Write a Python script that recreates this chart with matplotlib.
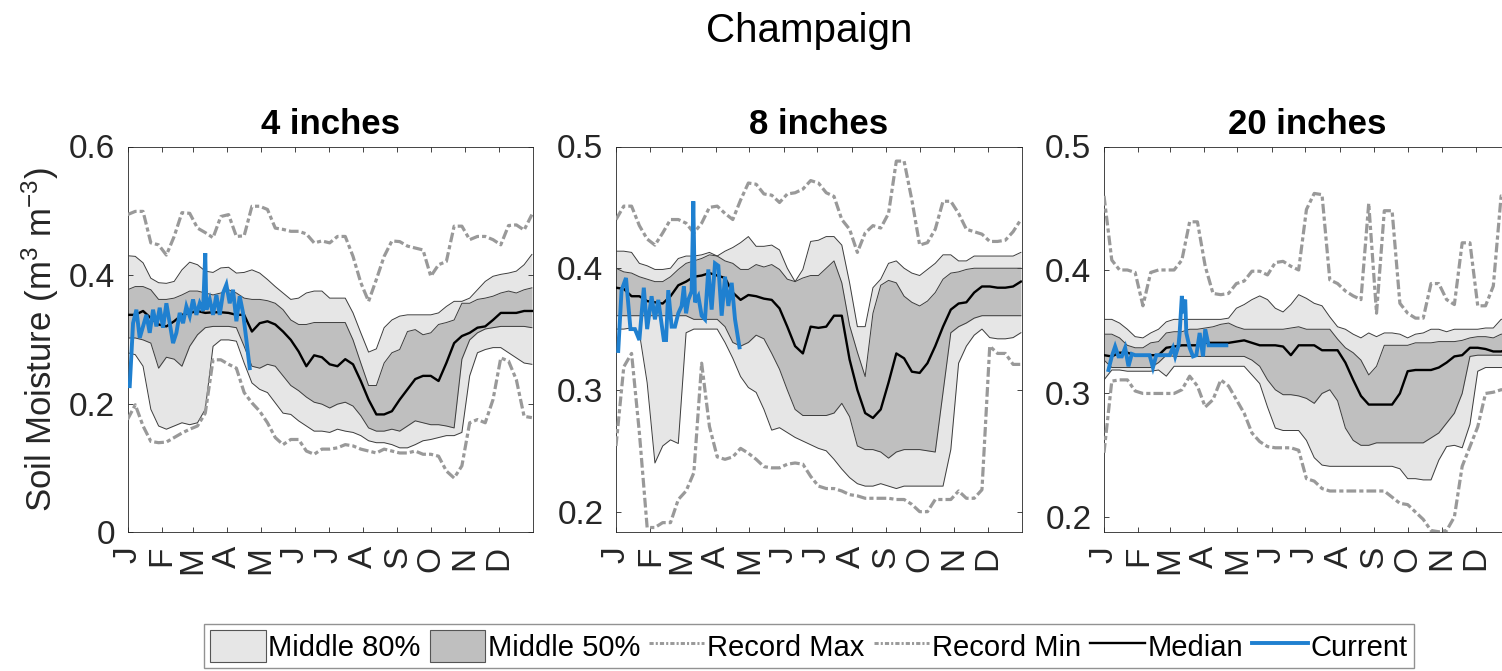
import numpy as np
import matplotlib
matplotlib.use('Agg')
import matplotlib.pyplot as plt
from matplotlib.patches import Patch
from matplotlib.lines import Line2D

plt.rcParams['font.family'] = ['Liberation Sans', 'DejaVu Sans']
plt.rcParams['mathtext.default'] = 'regular'
plt.rcParams['lines.scale_dashes'] = False

days = [1, 8, 15, 22, 29, 36, 43, 50, 57, 64, 71, 78, 85, 92, 99, 106, 113, 120,
        127, 134, 141, 148, 155, 162, 169, 176, 183, 190, 197, 204, 211, 218, 225,
        232, 239, 246, 253, 260, 267, 274, 281, 288, 295, 302, 309, 316, 323, 330,
        337, 344, 351, 358, 365]

month_days = [1, 32, 60, 91, 121, 152, 182, 213, 244, 274, 305, 335]
month_labels = ['J', 'F', 'M', 'A', 'M', 'J', 'J', 'A', 'S', 'O', 'N', 'D']

# ---- 4 inches ----
d4_max = [.494, .499, .499, .450, .447, .431, .460, .497, .496, .473, .466, .458, .491, .494, .460, .461, .507, .507,
          .502, .473, .471, .468, .468, .464, .450, .453, .450, .460, .460, .429, .388, .359, .393, .429, .453, .452,
          .445, .442, .439, .398, .416, .421, .476, .476, .455, .460, .460, .455, .447, .477, .478, .470, .494]
d4_p90 = [.430, .429, .419, .395, .388, .387, .390, .408, .420, .416, .406, .404, .411, .412, .403, .404, .408, .403,
          .393, .382, .372, .362, .364, .372, .375, .375, .364, .364, .364, .341, .310, .280, .285, .318, .330, .336,
          .338, .338, .338, .338, .341, .351, .359, .359, .364, .377, .390, .398, .401, .403, .406, .416, .432]
d4_p75 = [.377, .382, .382, .377, .362, .362, .364, .369, .375, .375, .372, .369, .372, .377, .372, .364, .362, .362,
          .360, .356, .346, .330, .323, .323, .326, .326, .326, .326, .326, .299, .263, .228, .228, .263, .279, .284,
          .312, .315, .307, .310, .323, .326, .330, .356, .356, .362, .364, .367, .372, .375, .372, .377, .380]
d4_med = [.338, .338, .344, .333, .323, .320, .328, .338, .341, .344, .341, .342, .342, .341, .338, .338, .312, .325,
          .328, .323, .312, .299, .281, .258, .275, .272, .261, .258, .269, .261, .235, .206, .183, .183, .188, .206,
          .222, .238, .243, .243, .235, .263, .294, .305, .310, .318, .320, .330, .341, .341, .341, .344, .344]
d4_p25 = [.302, .302, .299, .294, .255, .272, .269, .258, .289, .307, .318, .320, .320, .320, .318, .289, .258, .255,
          .261, .258, .243, .228, .220, .210, .202, .199, .193, .199, .202, .196, .181, .162, .157, .157, .160, .157,
          .165, .173, .170, .167, .167, .165, .162, .269, .299, .310, .316, .318, .320, .320, .320, .320, .318]
d4_p10 = [.279, .276, .258, .191, .165, .160, .165, .170, .167, .170, .191, .289, .299, .299, .297, .263, .232, .222,
          .217, .201, .185, .183, .173, .165, .157, .157, .155, .160, .157, .155, .150, .142, .139, .139, .136, .131,
          .131, .136, .142, .144, .147, .150, .150, .155, .243, .279, .284, .287, .287, .279, .271, .263, .261]
d4_min = [.175, .198, .165, .141, .139, .140, .147, .154, .160, .165, .185, .268, .268, .261, .255, .217, .201, .188,
          .170, .147, .136, .144, .144, .126, .121, .129, .129, .131, .136, .134, .129, .126, .123, .129, .126, .123,
          .123, .126, .121, .121, .118, .095, .084, .103, .170, .175, .170, .206, .271, .266, .237, .180, .178]
cur4_days = [3, 6, 9, 12, 15, 18, 21, 24, 27, 30, 33, 36, 39, 42, 45, 48, 51, 54, 57, 60, 63, 66, 69, 71,
             72, 75, 78, 81, 84, 87, 90, 93, 96, 99, 102, 105, 108, 111]
cur4_vals = [0.227, 0.325, 0.346, 0.302, 0.320, 0.338, 0.310, 0.346, 0.320, 0.349, 0.318, 0.356, 0.325, 0.294,
             0.310, 0.341, 0.325, 0.351, 0.336, 0.362, 0.338, 0.356, 0.344, 0.434, 0.346, 0.362, 0.338, 0.369,
             0.338, 0.372, 0.385, 0.356, 0.377, 0.328, 0.367, 0.341, 0.299, 0.255]

# ---- 8 inches ----
d8_max = [.440, .451, .451, .435, .424, .419, .429, .440, .440, .437, .429, .437, .450, .451, .445, .440, .456, .470,
          .469, .461, .460, .454, .461, .462, .465, .472, .470, .462, .459, .440, .432, .413, .429, .435, .433, .445,
          .488, .488, .456, .419, .421, .432, .455, .455, .445, .432, .430, .428, .422, .422, .423, .430, .440]
d8_p90 = [.414, .414, .413, .404, .402, .399, .399, .400, .408, .410, .410, .411, .413, .410, .414, .417, .421, .426,
          .418, .418, .419, .415, .400, .389, .399, .422, .423, .426, .426, .419, .388, .352, .352, .384, .391, .404,
          .406, .400, .396, .394, .399, .404, .411, .411, .406, .406, .410, .410, .410, .410, .410, .410, .413]
d8_p75 = [.400, .397, .396, .393, .391, .389, .389, .393, .399, .404, .406, .408, .411, .410, .406, .404, .399, .399,
          .403, .401, .403, .399, .391, .389, .392, .394, .394, .400, .406, .388, .353, .331, .311, .363, .386, .390,
          .388, .377, .372, .369, .373, .380, .391, .396, .397, .399, .400, .400, .400, .400, .400, .400, .400]
d8_med = [.384, .383, .377, .377, .373, .372, .371, .377, .386, .389, .393, .394, .396, .394, .392, .380, .374, .378,
          .377, .375, .374, .367, .352, .336, .330, .352, .351, .352, .361, .361, .325, .300, .281, .277, .284, .306,
          .330, .326, .315, .314, .322, .336, .352, .366, .371, .372, .380, .385, .385, .384, .384, .385, .389]
d8_p25 = [.361, .361, .361, .361, .361, .361, .361, .361, .361, .361, .358, .358, .358, .358, .352, .339, .336, .339,
          .345, .342, .330, .317, .300, .284, .279, .279, .279, .279, .281, .289, .278, .254, .251, .251, .249, .244,
          .249, .251, .251, .251, .250, .249, .298, .347, .352, .355, .359, .361, .361, .361, .361, .361, .361]
d8_p10 = [.350, .350, .351, .347, .306, .240, .254, .259, .256, .347, .350, .350, .350, .350, .339, .326, .311, .302,
          .298, .284, .267, .269, .265, .261, .258, .255, .252, .250, .243, .235, .228, .223, .221, .221, .223, .221,
          .219, .221, .221, .221, .221, .221, .221, .251, .322, .336, .345, .350, .343, .342, .342, .343, .347]
d8_min = [.254, .319, .330, .265, .187, .187, .191, .191, .210, .217, .232, .322, .270, .245, .243, .245, .252, .248,
          .243, .237, .236, .236, .239, .240, .239, .229, .221, .219, .219, .217, .214, .213, .211, .211, .211, .211,
          .210, .210, .206, .200, .200, .210, .210, .210, .217, .211, .211, .218, .336, .330, .330, .321, .321]
cur8_days = [3, 6, 10, 14, 18, 22, 26, 29, 33, 36, 39, 44, 46, 48, 51, 54, 57, 60, 62, 64, 66, 69, 70.5,
             72, 75, 78, 81, 84, 87, 90, 93, 96, 99, 102, 105, 108, 112]
cur8_vals = [0.332, 0.382, 0.392, 0.350, 0.350, 0.341, 0.384, 0.350, 0.377, 0.358, 0.374, 0.341, 0.341,
             0.382, 0.352, 0.352, 0.363, 0.369, 0.385, 0.363, 0.374, 0.381, 0.455, 0.372, 0.377, 0.361,
             0.358, 0.399, 0.366, 0.404, 0.402, 0.361, 0.393, 0.369, 0.388, 0.358, 0.335]

# ---- 20 inches ----
d20_max = [.460, .408, .400, .400, .398, .371, .398, .400, .400, .400, .408, .439, .439, .403, .381, .380, .381, .389,
           .391, .399, .399, .396, .406, .407, .403, .400, .449, .462, .461, .392, .389, .383, .379, .376, .454, .365,
           .448, .448, .373, .365, .361, .361, .389, .389, .376, .372, .422, .422, .371, .371, .387, .460, .460]
d20_p90 = [.360, .360, .357, .352, .346, .345, .349, .352, .358, .360, .360, .360, .360, .360, .360, .360, .361, .369,
           .372, .376, .379, .376, .369, .366, .372, .380, .377, .373, .371, .362, .354, .352, .348, .345, .349, .346,
           .349, .349, .348, .345, .348, .349, .352, .352, .350, .352, .352, .352, .352, .353, .353, .360, .361]
d20_p75 = [.348, .348, .345, .339, .337, .337, .341, .342, .349, .350, .350, .352, .352, .353, .354, .356, .357, .354,
           .352, .352, .352, .352, .352, .352, .353, .354, .352, .352, .352, .352, .344, .337, .333, .327, .315, .322,
           .339, .339, .339, .339, .341, .341, .341, .342, .342, .342, .343, .345, .346, .346, .345, .348, .348]
d20_med = [.331, .330, .333, .333, .331, .331, .331, .331, .337, .338, .339, .339, .339, .341, .341, .341, .341, .342,
           .343, .341, .339, .339, .339, .338, .331, .339, .339, .339, .335, .335, .335, .325, .311, .298, .291, .291,
           .291, .291, .300, .318, .319, .319, .319, .321, .325, .330, .331, .337, .337, .336, .334, .334, .336]
d20_p25 = [.327, .321, .321, .321, .321, .321, .321, .325, .331, .330, .330, .330, .330, .330, .330, .330, .330, .330,
           .330, .327, .322, .311, .303, .299, .299, .298, .296, .292, .300, .303, .294, .272, .262, .258, .258, .260,
           .260, .260, .260, .260, .260, .260, .264, .268, .276, .284, .300, .330, .331, .331, .331, .331, .331]
d20_p10 = [.311, .319, .319, .318, .318, .318, .318, .319, .314, .322, .322, .322, .322, .322, .322, .322, .322, .322,
           .322, .315, .308, .289, .272, .270, .270, .270, .262, .248, .242, .241, .241, .241, .241, .241, .241, .241,
           .241, .241, .239, .231, .231, .230, .230, .246, .257, .258, .256, .275, .318, .321, .321, .321, .321]
d20_min = [.252, .310, .311, .311, .302, .300, .300, .300, .300, .300, .303, .314, .306, .289, .295, .311, .306, .295,
           .284, .268, .261, .257, .256, .256, .256, .254, .231, .229, .223, .221, .221, .221, .221, .221, .221, .221,
           .221, .216, .211, .210, .204, .198, .189, .188, .189, .200, .241, .257, .273, .300, .301, .303, .303]
cur20_days = [5, 8, 11, 14, 17, 20, 23, 26, 29, 33, 38, 42, 45, 48, 54, 60, 63, 65, 68, 69, 71, 72, 74, 75,
              78, 81, 84, 87, 90, 92, 95, 99, 105, 111]
cur20_vals = [0.319, 0.330, 0.338, 0.330, 0.330, 0.337, 0.322, 0.332, 0.331, 0.331, 0.331, 0.331, 0.321,
              0.331, 0.331, 0.331, 0.337, 0.330, 0.339, 0.349, 0.379, 0.365, 0.376, 0.349, 0.337, 0.330,
              0.331, 0.349, 0.330, 0.352, 0.339, 0.339, 0.339, 0.339]

LIGHT = '#e6e6e6'
DARK = '#bfbfbf'
EDGE = '#3c3c3c'
REC = '#999999'
BLUE = '#1f80d0'
AXC = '#262626'
REC_DASH = (0, (7, 2.2, 3, 2.2))


def draw_panel(ax, title, stats, cur_days, cur_vals, ylim, yticks, yticklabels):
    vmax, p90, p75, med, p25, p10, vmin = stats
    ax.fill_between(days, p10, p90, color=LIGHT, lw=0, zorder=1)
    ax.fill_between(days, p25, p75, color=DARK, lw=0, zorder=2)
    for s in (p10, p90, p25, p75):
        ax.plot(days, s, color=EDGE, lw=0.7, zorder=3)
    ax.plot(days, vmax, color=REC, lw=2.3, ls=REC_DASH, zorder=4)
    ax.plot(days, vmin, color=REC, lw=2.3, ls=REC_DASH, zorder=4)
    ax.plot(days, med, color='black', lw=1.7, zorder=5)
    ax.plot(cur_days, cur_vals, color=BLUE, lw=2.8, zorder=6, solid_joinstyle='miter')

    ax.set_xlim(1, 366)
    ax.set_ylim(*ylim)
    ax.set_xticks(month_days)
    ax.set_xticklabels(month_labels, rotation=90)
    ax.set_yticks(yticks)
    ax.set_yticklabels(yticklabels)
    ax.tick_params(direction='in', top=True, right=True, length=3.5, width=0.6,
                   colors=AXC, labelsize=24)
    ax.tick_params(axis='y', pad=9)
    ax.tick_params(axis='x', pad=10)
    for sp in ax.spines.values():
        sp.set_color(AXC)
        sp.set_linewidth(0.6)
    ax.set_title(title, fontsize=25, fontweight='bold', pad=9)


fig = plt.figure(figsize=(15.02, 6.71), dpi=100)
W, H = 1502.0, 671.0
ax1 = fig.add_axes([127.5 / W, 139 / H, 405.5 / W, 385.5 / H])
ax2 = fig.add_axes([616 / W, 139 / H, 406 / W, 385.5 / H])
ax3 = fig.add_axes([1104 / W, 139 / H, 406 / W, 385.5 / H])

draw_panel(ax1, '4 inches', (d4_max, d4_p90, d4_p75, d4_med, d4_p25, d4_p10, d4_min),
           cur4_days, cur4_vals, (0, 0.6), [0, 0.2, 0.4, 0.6], ['0', '0.2', '0.4', '0.6'])
draw_panel(ax2, '8 inches', (d8_max, d8_p90, d8_p75, d8_med, d8_p25, d8_p10, d8_min),
           cur8_days, cur8_vals, (0.1833, 0.5), [0.2, 0.3, 0.4, 0.5], ['0.2', '0.3', '0.4', '0.5'])
draw_panel(ax3, '20 inches', (d20_max, d20_p90, d20_p75, d20_med, d20_p25, d20_p10, d20_min),
           cur20_days, cur20_vals, (0.1878, 0.5), [0.2, 0.3, 0.4, 0.5], ['0.2', '0.3', '0.4', '0.5'])

ax1.set_ylabel('Soil Moisture (m$^{3}$ m$^{-3}$)', fontsize=25, color=AXC)
ax1.yaxis.set_label_coords(-0.165, 0.5)

fig.text(0.539, 0.937, 'Champaign', fontsize=29, ha='center', va='baseline', color='black')

handles = [Patch(facecolor=LIGHT, edgecolor='#555555', lw=0.8),
           Patch(facecolor=DARK, edgecolor='#555555', lw=0.8),
           Line2D([], [], color=REC, lw=2.1, ls=(0, (3, 1.5, 1.5, 1.5))),
           Line2D([], [], color=REC, lw=2.1, ls=(0, (3, 1.5, 1.5, 1.5))),
           Line2D([], [], color='black', lw=1.7),
           Line2D([], [], color=BLUE, lw=2.8)]
labels = ['Middle 80%', 'Middle 50%', 'Record Max', 'Record Min', 'Median', 'Current']
leg = fig.legend(handles, labels, loc='center', bbox_to_anchor=(809 / W, 1 - 646 / H), ncol=6,
                 fontsize=21, frameon=True, fancybox=False, handlelength=1.9, handleheight=1.3,
                 handletextpad=0.1, columnspacing=0.3, borderpad=0.2, borderaxespad=0)
leg.get_frame().set_edgecolor('#777777')
leg.get_frame().set_linewidth(1.0)

fig.savefig('out.png', dpi=100)
